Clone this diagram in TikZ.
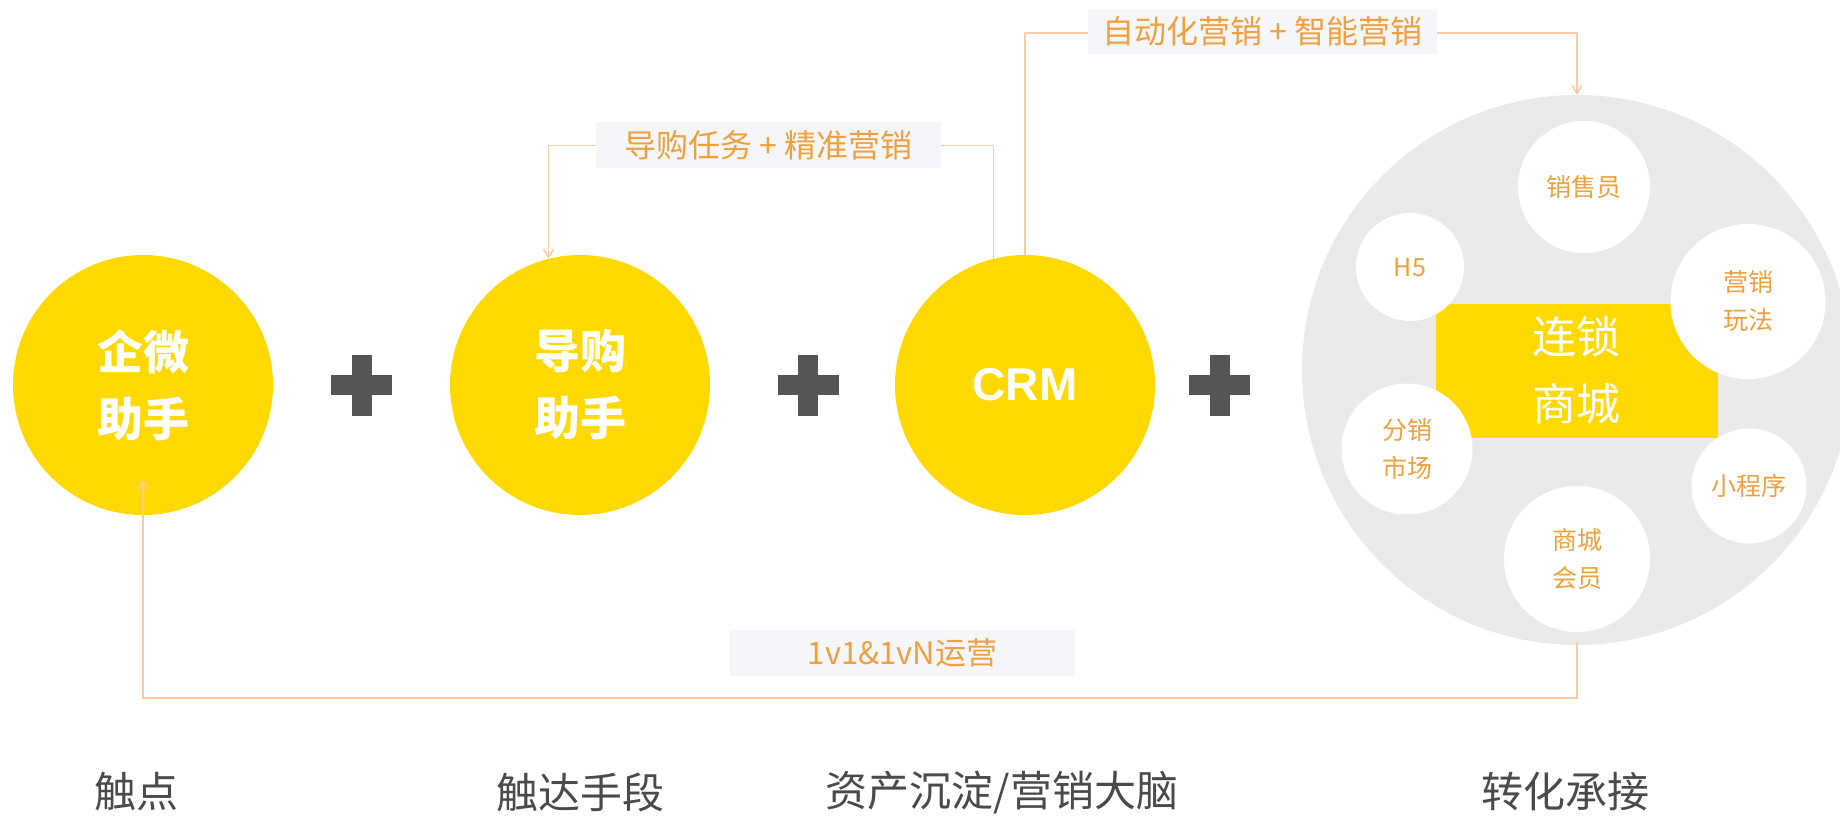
\documentclass[tikz,border=0pt]{standalone}
\usepackage{fontspec}
\setmainfont{Liberation Sans}
\newfontfamily\cjk{Noto Sans CJK SC}
\usetikzlibrary{arrows.meta,calc}
\definecolor{ylw}{HTML}{FFD900}
\definecolor{ringgray}{HTML}{EAEAEA}
\definecolor{org}{HTML}{F0A03C}
\definecolor{lineorg}{HTML}{F8CDA6}
\definecolor{plusgray}{HTML}{555555}
\definecolor{boxbg}{HTML}{F5F6FA}
\definecolor{captxt}{HTML}{4A4A4A}
\begin{document}
\begin{tikzpicture}[x=1pt,y=-1pt,
  bigcirc/.style={circle,fill=ylw,minimum size=260pt,inner sep=0pt,text=white,
    font=\cjk\bfseries\fontsize{46}{67}\selectfont,align=center},
  subcirc/.style={circle,fill=white,inner sep=0pt,text=org,
    font=\cjk\fontsize{25}{38}\selectfont,align=center},
  tagbox/.style={fill=boxbg,inner sep=0pt,minimum height=46pt,text=org,
    font=\cjk\fontsize{32}{38}\selectfont},
  caption/.style={text=captxt,font=\cjk\fontsize{42}{50}\selectfont,inner sep=0pt},
  flow/.style={draw=lineorg,line width=1.5pt},
  tip/.style={-{Straight Barb[length=8pt,width=10pt]}},
  plusbar/.style={fill=plusgray}
]
\useasboundingbox (0,0) rectangle (1840,815);

% main circles
\node[bigcirc] (qw) at (143,385) {企微\\助手};
\node[bigcirc] (guide) at (580,385) {导购\\助手};
\node[bigcirc,font=\bfseries\fontsize{46}{56}\selectfont] (crm) at (1025,385) {CRM};

% plus signs
\foreach \px in {361.5,808,1219.5}{
  \fill[plusbar] (\px-30.5,375) rectangle (\px+30.5,395);
  \fill[plusbar] (\px-10,354.5) rectangle (\px+10,415.5);
}

% mall cluster
\node[circle,fill=ringgray,minimum size=550pt,inner sep=0pt] (mall) at (1577,370) {};
\node[fill=ylw,minimum width=282pt,minimum height=134pt,inner sep=0pt] (core) at (1576.5,370.5) {};
\node[subcirc,minimum size=132pt] (s1) at (1584,187) {销售员};
\node[subcirc,minimum size=108pt] (s2) at (1410,267) {H5};
\node[subcirc,minimum size=155pt] (s3) at (1748,301.5) {营销\\玩法};
\node[subcirc,minimum size=131pt] (s4) at (1407,449) {分销\\市场};
\node[subcirc,minimum size=115pt] (s5) at (1749,486) {小程序};
\node[subcirc,minimum size=146pt] (s6) at (1577,559) {商城\\会员};
\node[text=white,font=\cjk\fontsize{44}{67}\selectfont,align=center,inner sep=0pt] at (core.center) {连锁\\商城};

% connectors
\coordinate (qwtip) at ($(qw.center)+(0,95)$);
\coordinate (bot) at (1577,698);
\draw[flow,tip] (crm.104) -- ++(0,-113) -| (guide.104);
\draw[flow,tip] (crm.north) -- ++(0,-222) -| (mall.north);
\draw[flow,tip] ([yshift=3pt]mall.south) -- (bot) -| (qwtip);

% labels
\node[tagbox,minimum width=345pt] (t1) at (768.5,145) {导购任务 + 精准营销};
\node[tagbox,minimum width=349pt,minimum height=45pt] (t2) at (1262.5,31.5) {自动化营销 + 智能营销};
\node[tagbox,minimum width=345pt,font=\cjk\fontsize{31}{36}\selectfont] (t3) at (902.5,653) {1v1\&1vN运营};

% captions
\node[caption] (c1) at (136,792) {触点};
\node[caption] (c2) at (580,792) {触达手段};
\node[caption] (c3) at (1002,792) {资产沉淀/营销大脑};
\node[caption] (c4) at (1565,792) {转化承接};
\end{tikzpicture}
\end{document}
